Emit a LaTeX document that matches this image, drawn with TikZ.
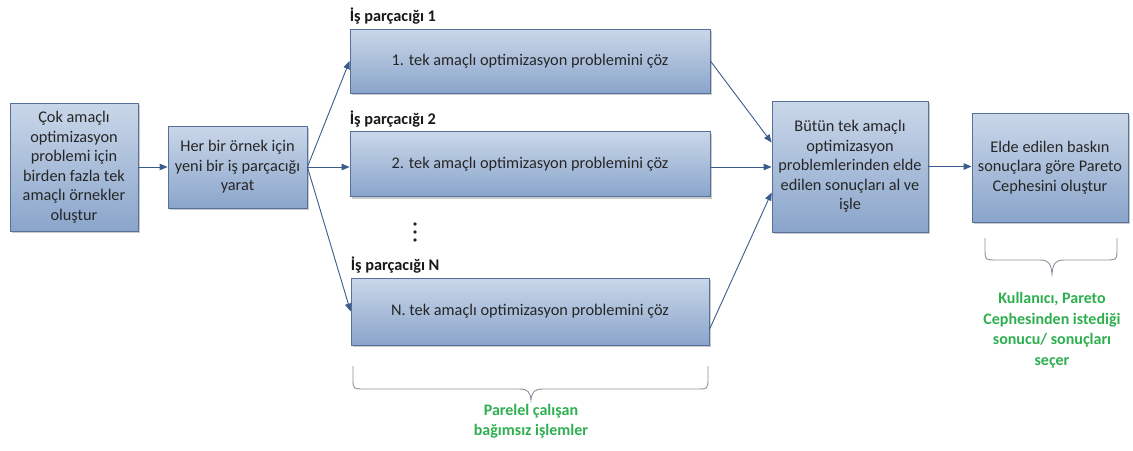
\documentclass[tikz,border=0pt]{standalone}
\usepackage{fontspec}
\setmainfont{Carlito}
\usetikzlibrary{arrows.meta,shadows,calc}

\definecolor{boxtop}{HTML}{CAD7E9}
\definecolor{boxbot}{HTML}{8AA5CB}
\definecolor{boxline}{HTML}{56709A}
\definecolor{arrowc}{HTML}{3A5C8C}
\definecolor{notegreen}{HTML}{2DAF4F}
\definecolor{bracec}{HTML}{8A939C}

\tikzset{
  procbox/.style={draw=boxline, line width=0.8pt, top color=boxtop, bottom color=boxbot,
    drop shadow={shadow xshift=2pt, shadow yshift=-2pt, opacity=0.35, fill=black!60},
    align=center, font=\fontsize{16.3}{19.5}\selectfont, text=black!85, inner sep=2pt},
  flow/.style={draw=arrowc, line width=0.9pt, -{Triangle[length=8pt,width=6.5pt]}},
  threadlbl/.style={font=\bfseries\fontsize{16.3}{19}\selectfont, text=black!90,
    anchor=south west, inner sep=0pt},
  note/.style={font=\bfseries\fontsize{16}{20.5}\selectfont, text=notegreen, align=center},
  curly/.style={draw=bracec, line width=0.9pt},
  dotmark/.style={fill=black!85, draw=none},
}

\begin{document}
\begin{tikzpicture}[x=1pt, y=-1pt]
  \useasboundingbox (0,0) rectangle (1133,450);

  % process boxes
  \node[procbox, minimum width=128pt, minimum height=128pt] (gen) at (74,167)
    {Çok amaçlı\\optimizasyon\\problemi için\\birden fazla tek\\amaçlı örnekler\\oluştur};
  \node[procbox, minimum width=139pt, minimum height=82pt] (spawn) at (237.5,167)
    {Her bir örnek için\\yeni bir iş parçacığı\\yarat};
  \node[procbox, minimum width=360pt, minimum height=64pt] (t1) at (530,61)
    {1. tek amaçlı optimizasyon problemini çöz};
  \node[procbox, minimum width=360pt, minimum height=65pt] (t2) at (530,164)
    {2. tek amaçlı optimizasyon problemini çöz};
  \node[procbox, minimum width=358pt, minimum height=67pt] (tn) at (530,311.5)
    {N. tek amaçlı optimizasyon problemini çöz};
  \node[procbox, minimum width=156pt, minimum height=131pt] (collect) at (850,166.5)
    {Bütün tek amaçlı\\optimizasyon\\problemlerinden elde\\edilen sonuçları al ve\\işle};
  \node[procbox, minimum width=156pt, minimum height=109pt] (pareto) at (1050,167.5)
    {Elde edilen baskın\\sonuçlara göre Pareto\\Cephesini oluştur};

  % thread labels
  \node[threadlbl] (l1) at ([yshift=4pt]t1.north west) {İş parçacığı 1};
  \node[threadlbl] (l2) at ([yshift=4pt]t2.north west) {İş parçacığı 2};
  \node[threadlbl] (ln) at ([yshift=4pt]tn.north west) {İş parçacığı N};

  % vertical ellipsis between thread 2 and thread N
  \coordinate (vdots) at (415,232);
  \foreach \d in {-8,0,8} \fill[dotmark] ($(vdots)+(0,\d)$) circle (1.9pt);

  % connectors
  \draw[flow] (gen.east) -- (gen.east -| spawn.west);
  \draw[flow] (spawn.east) -- (t1.west);
  \draw[flow] (spawn.east) -- (spawn.east -| t2.west);
  \draw[flow] (spawn.east) -- (tn.west);
  \draw[flow] (t1.east) -- ($(collect.west)+(0,-24)$);
  \draw[flow] (spawn.east -| t2.east) -- (spawn.east -| collect.west);
  \draw[flow] ($(tn.east)+(0,18)$) -- ($(collect.west)+(0,26)$);
  \draw[flow] (collect.east) -- (collect.east -| pareto.west);

  % brace under the parallel threads
  \draw[curly] (353,366) -- (353,378) .. controls (353,389) .. (365,389) -- (519,389)
    .. controls (528,389) and (530,392) .. (531,400)
    .. controls (532,392) and (534,389) .. (543,389) -- (696,389)
    .. controls (708,389) .. (708,378) -- (708,366);
  \node[note] (parnote) at (531,421) {Parelel çalışan\\bağımsız işlemler};

  % brace under the Pareto box
  \draw[curly] (985,238) -- (985,248) .. controls (985,260) .. (997,260) -- (1040,260)
    .. controls (1049,260) and (1051,264) .. (1052,274)
    .. controls (1053,264) and (1055,260) .. (1064,260) -- (1105,260)
    .. controls (1117,260) .. (1117,248) -- (1117,238);
  \node[note] (usernote) at (1052,330)
    {Kullanıcı, Pareto\\Cephesinden istediği\\sonucu/ sonuçları\\seçer};
\end{tikzpicture}
\end{document}
